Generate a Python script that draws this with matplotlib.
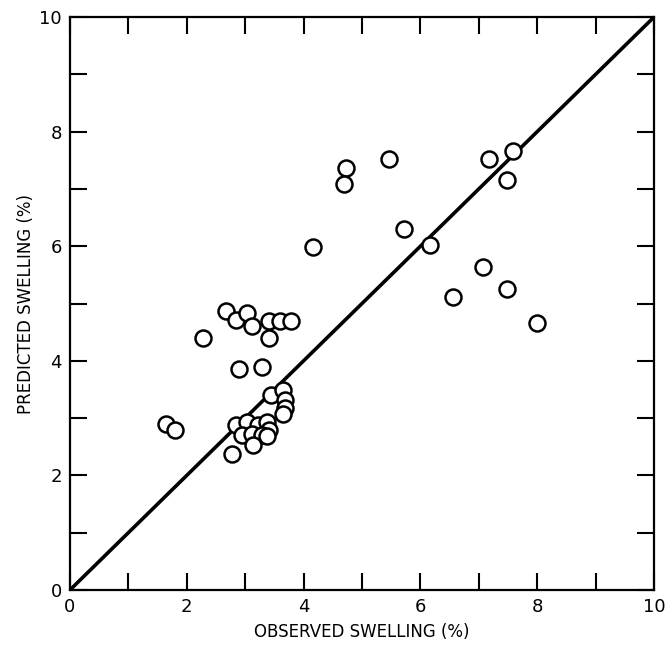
import matplotlib
matplotlib.use("Agg")
import matplotlib.pyplot as plt
import numpy as np

# observed vs predicted swelling (%)
observed = [2.67, 2.84, 3.03, 3.11, 3.41, 3.60, 3.78, 3.41, 2.28, 2.90, 3.28,
            1.64, 1.79, 2.77, 3.45, 3.64, 3.68, 3.69, 3.64, 2.85, 3.03, 3.22,
            3.37, 3.41, 2.94, 3.11, 3.28, 3.37, 3.14, 4.73, 4.69, 5.47, 7.17,
            7.59, 7.48, 5.72, 4.16, 6.16, 7.07, 7.48, 6.55, 8.00]
predicted = [4.87, 4.71, 4.84, 4.60, 4.69, 4.69, 4.69, 4.39, 4.40, 3.86, 3.89,
             2.89, 2.79, 2.37, 3.40, 3.49, 3.32, 3.17, 3.07, 2.88, 2.94, 2.88,
             2.94, 2.79, 2.71, 2.73, 2.71, 2.68, 2.53, 7.36, 7.09, 7.53, 7.52,
             7.67, 7.16, 6.30, 5.99, 6.02, 5.64, 5.25, 5.12, 4.66]
major_ticks = [0, 2, 4, 6, 8, 10]
minor_ticks = [1, 3, 5, 7, 9]

fig = plt.figure(figsize=(6.69, 6.54), dpi=100)
ax = fig.add_axes([0.1046, 0.0979, 0.873, 0.876])

# 1:1 line
ax.plot([0, 10], [0, 10], color="black", lw=2.6, zorder=2)
ax.plot(observed, predicted, "o", ms=11.5, mfc="white", mec="black",
        mew=1.8, ls="none", zorder=3)

ax.set_xlim(0, 10)
ax.set_ylim(0, 10)
ax.set_xticks(major_ticks)
ax.set_yticks(major_ticks)
ax.set_xticks(minor_ticks, minor=True)
ax.set_yticks(minor_ticks, minor=True)
for which in ("major", "minor"):
    ax.tick_params(which=which, direction="in", length=12, width=1.5,
                   top=True, right=True, labelsize=13, pad=6)

for s in ax.spines.values():
    s.set_linewidth(1.6)

ax.set_xlabel("OBSERVED SWELLING (%)", fontsize=12, labelpad=5)
ax.set_ylabel("PREDICTED SWELLING (%)", fontsize=12, labelpad=3)

plt.savefig("out.png", dpi=100)
plt.close()
